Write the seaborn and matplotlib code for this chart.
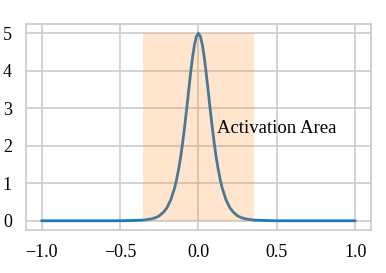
import numpy as np
import pandas as pd
import matplotlib
matplotlib.use("Agg")
import matplotlib.pyplot as plt
import seaborn as sns

# curve values (symmetric about 0)
x_half = [0.0, 0.0125, 0.025, 0.0375, 0.05, 0.0625, 0.075, 0.0875, 0.1, 0.1125,
          0.125, 0.1375, 0.15, 0.175, 0.2, 0.225, 0.25, 0.275, 0.3, 0.35,
          0.4, 0.5, 0.75, 1.0]
y_half = [5.00, 4.92, 4.70, 4.36, 3.93, 3.46, 2.98, 2.52, 2.10, 1.72,
          1.40, 1.13, 0.90, 0.57, 0.35, 0.22, 0.13, 0.08, 0.05, 0.02,
          0.01, 0.00, 0.00, 0.00]
area_lo, area_hi = -0.355, 0.355
area_top = 5
label = "Activation Area"

xs = [-v for v in x_half[::-1]] + x_half[1:]
ys = y_half[::-1] + y_half[1:]
df = pd.DataFrame({"x": xs, "y": ys})

sns.set_theme(style="whitegrid")
plt.rcParams['font.family'] = ['Liberation Serif', 'DejaVu Serif']
plt.rcParams['text.color'] = 'black'
plt.rcParams['xtick.color'] = 'black'
plt.rcParams['ytick.color'] = 'black'
plt.rcParams['grid.linewidth'] = 1.2

fig, ax = plt.subplots(figsize=(3.86, 2.73), dpi=100)
fig.subplots_adjust(left=0.067, right=0.961, bottom=0.157, top=0.912)

sns.lineplot(data=df, x="x", y="y", ax=ax, color="#1f77b4", linewidth=2.0)
ax.fill_between([area_lo, area_hi], 0, area_top, color="#ff7f0e", alpha=0.2,
                lw=0, zorder=3)
ax.text(0.12, 2.35, label, fontsize=13.5)

ax.set_xlabel("")
ax.set_ylabel("")
ax.set_xticks([-1.0, -0.5, 0.0, 0.5, 1.0])
ax.set_yticks([0, 1, 2, 3, 4, 5])
ax.tick_params(labelsize=13, pad=4)

plt.savefig("out.png", dpi=100)
